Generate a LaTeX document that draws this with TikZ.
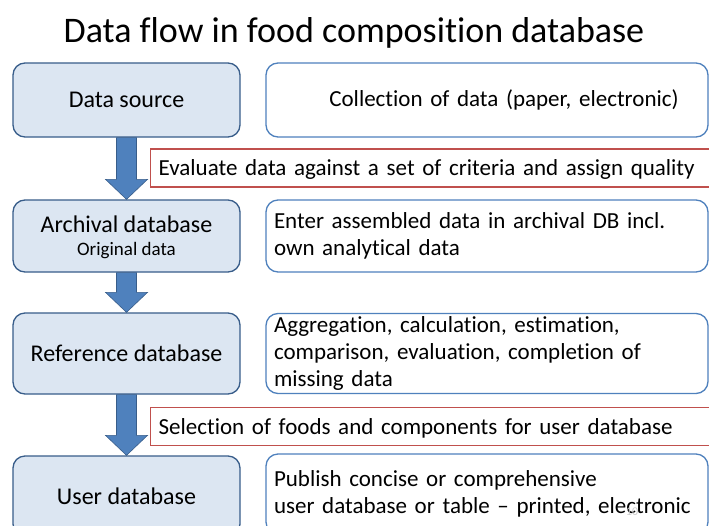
\documentclass[tikz,border=0pt]{standalone}
\usepackage{fontspec}
\setmainfont{Carlito}[Ligatures=NoCommon]
\usetikzlibrary{calc}
\definecolor{flowblue}{HTML}{4F81BD}
\definecolor{flowedge}{HTML}{385D8A}
\definecolor{stagefill}{HTML}{DCE6F2}
\definecolor{checkred}{HTML}{C0504D}
\tikzset{
  stage node/.style={
    rounded corners=12pt,
    draw=flowedge,
    line width=1.3pt,
    fill=stagefill,
    minimum width=227pt,
    align=center,
    font=\fontsize{24}{27}\selectfont,
  },
  task node/.style={
    rounded corners=12pt,
    draw=flowblue,
    line width=1.3pt,
    fill=white,
    minimum width=442pt,
    text width=426pt,
    inner xsep=8pt,
    inner ysep=0pt,
    align=left,
    font=\fontsize{23}{27}\selectfont,
  },
  check node/.style={
    draw=checkred,
    line width=1.3pt,
    fill=white,
    anchor=west,
    minimum width=570pt,
    minimum height=38pt,
    text width=554pt,
    text depth=0pt,
    inner xsep=8pt,
    align=left,
    font=\fontsize{23}{27}\selectfont,
  },
  flow arrow/.style={
    fill=flowblue,
    draw=flowedge,
    line width=0.6pt,
  },
}

\begin{document}
\begin{tikzpicture}[x=1pt, y=-1pt]
        \clip (0,0) rectangle (709,525);
        \fill[white] (0,0) rectangle (709,525);

        \node (title) at (354,33) {\fontsize{36}{42}\selectfont Data flow in food composition database};

        \node[stage node, minimum height=74pt] (src) at (126.5,100) {Data source};
        \node[stage node, minimum height=72pt, text depth=0pt] (arch) at (126.5,236) {Archival database\\[-4pt]{\fontsize{19}{22}\selectfont Original data}};
        \node[stage node, minimum height=81pt] (ref) at (126.5,353.5) {Reference database};
        \node[stage node, minimum height=80pt] (user) at (126.5,496) {User database};

        \node[task node, minimum height=74pt, align=center] (collect) at (487,100) {\hspace*{34pt}Collection of data (paper, electronic)};
        \node[task node, minimum height=72pt] (enter) at (487,236) {Enter assembled data in archival DB incl.\\own analytical data};
        \node[task node, minimum height=80pt] (aggr) at (487,353.5) {Aggregation, calculation, estimation,\\comparison, evaluation, completion of\\missing data};
        \node[task node, minimum height=80pt] (publish) at (487,494) {Publish concise or comprehensive\\user database or table -- printed, electronic};

        \node[check node] (evaluate) at (150,168) {Evaluate data against a set of criteria and assign quality};
        \node[check node] (select) at (150,426.5) {Selection of foods and components for user database};

        \node[text=black!20] (slide) at (632,512) {\fontsize{12}{14}\selectfont 10};

        \draw[flow arrow] ($(src.south)+(-10,0)$) -- ($(arch.north)+(-10,-20)$) -- ($(arch.north)+(-21,-20)$)
        -- (arch.north) -- ($(arch.north)+(21,-20)$) -- ($(arch.north)+(10,-20)$) -- ($(src.south)+(10,0)$) -- cycle;
        \draw[flow arrow] ($(arch.south)+(-10,0)$) -- ($(ref.north)+(-10,-20)$) -- ($(ref.north)+(-21,-20)$)
        -- (ref.north) -- ($(ref.north)+(21,-20)$) -- ($(ref.north)+(10,-20)$) -- ($(arch.south)+(10,0)$) -- cycle;
        \draw[flow arrow] ($(ref.south)+(-10,0)$) -- ($(user.north)+(-10,-20)$) -- ($(user.north)+(-21,-20)$)
        -- (user.north) -- ($(user.north)+(21,-20)$) -- ($(user.north)+(10,-20)$) -- ($(ref.south)+(10,0)$) -- cycle;
      \end{tikzpicture}
\end{document}
